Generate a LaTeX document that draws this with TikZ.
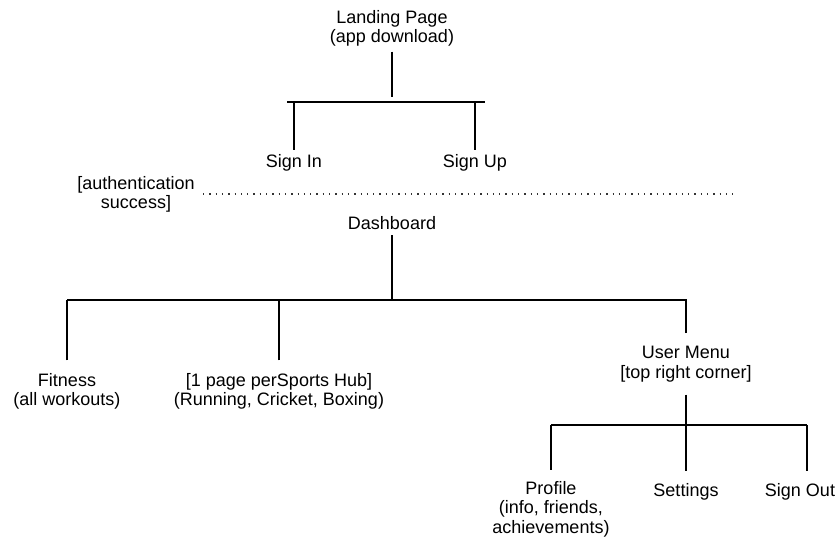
\documentclass[tikz,border=0pt]{standalone}
\usepackage{fontspec}
\setmainfont{Liberation Sans}

\begin{document}
\begin{tikzpicture}[x=1pt,y=-1pt,line width=1.2pt,
  lbl/.style={align=center,inner sep=0pt,outer sep=5pt,font=\fontsize{18}{19.5}\selectfont}]
\useasboundingbox (0,0) rectangle (839,540);

\node[lbl, anchor=base] (1) at (392,43)
{Landing Page\\(app download)};

\node[lbl, anchor=base] (2) at (294,168)
{Sign In};

\node[lbl, anchor=base] (3) at (475,168)
{Sign Up};

\node[lbl, anchor=base] (a) at (136,209)
{[authentication\\success]};

\node[lbl, anchor=base] (4) at (392,230)
{Dashboard};

\node[lbl, anchor=base, outer sep=13pt] (5) at (67,406)
{Fitness\\(all workouts)};

\node[lbl, anchor=base, outer sep=13pt] (6) at (279,406)
{[1 page perSports Hub]\\(Running, Cricket, Boxing)};

\node[lbl, anchor=base, outer sep=13pt] (7) at (686,378)
{User Menu\\{[top right corner]}};

\node[lbl, anchor=base, outer sep=11pt] (8) at (551,533)
{Profile\\(info, friends,\\achievements)};

\node[lbl, anchor=base, outer sep=12pt] (9) at (686,496)
{Settings};

\node[lbl, anchor=base, outer sep=12pt] (10) at (800,496)
{Sign Out};

\coordinate (t1) at (392,97);
\coordinate (l1) at (287,102);
\coordinate (r1) at (485,102);

\coordinate (l2) at (67,300);
\coordinate (r2) at (687,300);

\coordinate (l3) at (551,425);
\coordinate (r3) at (807,425);

\coordinate (d1) at (203,194);
\coordinate (d2) at (733,194);


\draw (1) -- (t1);
\draw (l1) -- (r1);
\draw (2) -- (2 |- l1);
\draw (3) -- (3 |- l1);

\draw[line width=1.3pt, dash pattern=on 1.3pt off 5pt, black!80] (d1) -- (d2);

\draw (4) -- (4 |- l2);
\draw (l2) -- (r2);
\draw (5) -- (5 |- l2);
\draw (6) -- (6 |- l2);
\draw (7) -- (7 |- l2);

\draw (7) -- (7 |- l3);
\draw (l3) -- (r3);
\draw (8) -- (8 |- l3);
\draw (9) -- (9 |- l3);
\draw (r3 |- 10.north) -- (r3);
\end{tikzpicture}
\end{document}
